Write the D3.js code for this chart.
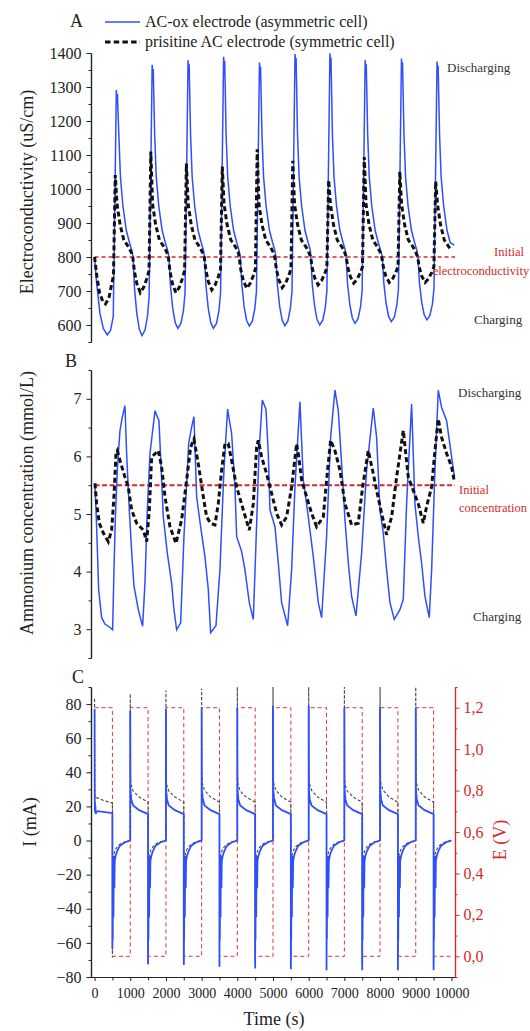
<!DOCTYPE html>
<html><head><meta charset="utf-8">
<script src="https://cdn.jsdelivr.net/npm/d3@7"></script>
<style>
body{margin:0;background:#fff;}
svg{display:block;font-family:"Liberation Serif","Times New Roman",serif;}
svg text{font-family:"Liberation Serif","Times New Roman",serif;}
</style>
</head><body>
<svg id="chart" width="530" height="1031"></svg>
<script>
// ---------------- DATA ----------------
const timeTicks = [0,1000,2000,3000,4000,5000,6000,7000,8000,9000,10000];
const condTicks = [600,700,800,900,1000,1100,1200,1300,1400];
const ammTicks = [3,4,5,6,7];
const curTicks = [-80,-60,-40,-20,0,20,40,60,80];
const voltTicks = [0,0.2,0.4,0.6,0.8,1.0,1.2];

const initialCond = 800;
const initialAmm = 5.5;

// Panel A – electroconductivity, AC-ox (blue)
const condBlueFirst = [[0,800],[58,723],[151,634],[244,590],[356,571],[449,585],[524,625]];
const condBluePeakT = [610,1614,2620,3616,4621,5617,6595,7583,8600,9597];
const condBluePeak  = [1291,1365,1379,1389,1372,1397,1399,1379,1384,1375];
const condBlueMin   = [571,569,590,590,597,598,600,605,610,615];
const condBlueDropOffsets = [-535,-495,-430,-360,-285,-200,-130,-85];
const condBlueDropFrac    = [1,0.6,0.28,0.08,0,0.07,0.25,0.5];
const condBlueDecayOffsets = [70,115,185,280,370,430];
const condBlueDecayValues  = [1160,1035,950,878,842,820];
const condBlueEnd = [10080,835];

// Panel A – electroconductivity, pristine AC (black dashed)
const condBlackFirst = [[0,800],[65,743],[140,694],[233,669],[307,662],[400,679],[466,713],[530,745]];
const condBlackPeakT = [580,1576,2573,3579,4557,5554,6560,7557,8553,9559];
const condBlackPeak  = [1041,1110,1075,1066,1117,1083,1026,1094,1051,1022];
const condBlackMin   = [662,695,695,703,708,710,718,723,725,725];
const condBlackDropOffsets = [-505,-460,-390,-295,-200,-110,-50];
const condBlackDropFrac    = [1,0.6,0.25,0,0.15,0.4,0.62];
const condBlackDecayOffsets = [50,135,240,380,455];
const condBlackDecayValues  = [955,895,850,828,812];
const condBlackEnd = [9990,820];

// Panel B – ammonium concentration
const ammBlue = [[11,5.53],[58,4.78],[114,3.69],[198,3.20],[291,3.09],[432,3.03],[506,2.99],[544,4.03],[581,4.90],[637,5.76],[712,6.45],[777,6.68],[852,6.88],[898,6.05],[973,5.07],[1048,4.26],[1104,3.75],[1225,3.34],[1347,3.05],[1412,3.80],[1478,5.07],[1553,6.05],[1693,6.79],[1804,6.62],[1851,5.99],[1926,4.95],[2038,4.32],[2160,3.80],[2225,3.34],[2300,2.99],[2412,3.11],[2505,4.61],[2636,6.22],[2720,6.51],[2785,6.69],[2860,5.30],[2972,4.78],[3093,4.26],[3187,3.69],[3252,2.94],[3402,3.06],[3513,4.03],[3625,5.76],[3728,6.82],[3841,6.39],[3934,5.47],[3981,4.61],[4121,4.35],[4214,4.03],[4336,3.46],[4448,3.17],[4523,4.49],[4607,6.05],[4700,6.98],[4803,6.82],[4868,6.05],[4915,5.07],[5055,4.78],[5148,4.15],[5242,3.46],[5410,3.06],[5522,4.03],[5615,5.47],[5755,6.95],[5849,5.59],[5989,4.95],[6129,4.26],[6269,3.46],[6362,3.20],[6502,4.61],[6615,6.33],[6736,7.15],[6830,6.79],[6923,5.87],[7017,4.90],[7110,4.15],[7203,3.57],[7325,3.23],[7483,4.32],[7623,5.76],[7810,6.84],[7904,6.33],[7997,5.07],[8090,4.67],[8184,4.03],[8277,3.46],[8398,3.17],[8557,3.34],[8651,3.52],[8744,5.18],[8884,6.91],[8977,5.18],[9071,4.61],[9164,4.15],[9258,3.57],[9379,3.20],[9445,4.03],[9538,5.76],[9631,7.15],[9725,6.85],[9865,6.62],[10005,5.99],[10085,5.64]];
const ammBlack = [[11,5.53],[58,5.18],[133,4.84],[245,4.67],[385,4.52],[478,4.72],[544,5.30],[600,6.05],[637,6.10],[712,5.93],[852,5.64],[945,5.47],[1039,5.07],[1179,4.84],[1366,4.72],[1460,4.52],[1534,5.07],[1599,5.99],[1786,6.10],[1879,5.82],[1973,5.30],[2113,4.78],[2281,4.49],[2440,4.90],[2580,5.59],[2692,6.16],[2785,6.30],[2907,5.87],[3047,5.30],[3140,4.95],[3252,4.84],[3373,4.81],[3467,5.18],[3560,5.76],[3654,6.22],[3747,6.22],[3841,5.93],[3981,5.47],[4168,5.07],[4336,4.72],[4448,5.18],[4541,6.16],[4588,6.28],[4681,5.99],[4821,5.70],[4961,5.36],[5101,5.01],[5242,4.81],[5382,4.95],[5522,5.47],[5662,6.22],[5708,6.05],[5802,5.59],[5942,5.30],[6082,5.01],[6222,4.78],[6409,4.95],[6502,5.59],[6615,6.28],[6736,6.10],[6876,5.76],[7017,5.18],[7203,4.81],[7390,4.84],[7511,5.47],[7670,6.10],[7810,5.70],[7904,5.41],[8044,5.01],[8184,4.64],[8324,4.95],[8464,5.64],[8651,6.45],[8791,5.64],[8931,5.41],[9071,5.18],[9211,4.84],[9304,5.13],[9445,5.47],[9538,6.10],[9631,6.65],[9725,6.33],[9865,6.05],[10005,5.82],[10085,5.55]];

// Panel C – current (mA) and cell voltage (V)
const cycleStart = [0,1000,2000,3000,4000,5000,6000,7000,8000,9000];
const curBluePeak  = [77,76,77,78,78,79,79,78,78,78];
const curBlueStart = [17.5,24,24,24.5,24,24.5,24,24,24,24];
const curBlue80    = [17.2,20.5,20.5,20.5,20.5,20.5,20.5,20.5,20.5,20.5];
const curBlue250   = [16.8,17.8,17.8,17.8,17.8,17.8,17.8,17.8,17.8,17.8];
const curBlueEnd   = [16,15.5,15.5,15.5,15.5,15.5,15.5,15.5,15.5,15.5];
const curBlueNeg   = [-63.5,-72.5,-73,-74,-75,-75.5,-76,-76,-76,-76];
const curBlueDisOffsets = [504,510,516,530,538,555,565,590,620,660,712,800,852,950,1000];
const curBlueDisValues  = [-12,-58,-10,-45,-9,-28,-12,-9,-7,-5,-3,-1.8,-1,-0.3,0.2];

const curBlackPeak  = [83,86,88,89,90,90,90,90,90,90];
const curBlackStart = [25,33,33,34,33,34,34,33,34,34];
const curBlack80    = [25,29,29,29.5,29,29.5,29.5,29,29.5,29.5];
const curBlack250   = [23.5,25.5,25.5,25.5,25.5,25.5,25.5,25.5,25.5,25.5];
const curBlackEnd   = [22,22.5,22.5,22.5,22.5,22.5,22.5,22.5,22.5,22.5];
const curBlackNeg   = [-68.5,-72.5,-72,-72,-72,-73,-73,-73,-73,-73];
const curBlackDisOffsets = [505,515,540,580,640,720,850,1000];
const curBlackDisValues  = [-20,-10,-8,-5.5,-3.5,-2,-0.7,0];

const voltageSteps = [[0,1.2],[500,0],[1000,1.2],[1500,0],[2000,1.2],[2500,0],[3000,1.2],[3500,0],[4000,1.2],[4500,0],[5000,1.2],[5500,0],[6000,1.2],[6500,0],[7000,1.2],[7500,0],[8000,1.2],[8500,0],[9000,1.2],[9500,0],[10050,0]];

// ---------------- BUILD SERIES ----------------
const condBlue = condBlueFirst.slice();
for (let c = 0; c < 10; c++) {
  const P = condBluePeakT[c], mn = condBlueMin[c], pk = condBluePeak[c];
  if (c > 0) condBlueDropOffsets.forEach((o,i) => condBlue.push([P+o, mn + condBlueDropFrac[i]*(initialCond-mn)]));
  condBlue.push([P, pk],[P+15, pk-30],[P+30, pk-12]);
  const n = c < 9 ? condBlueDecayOffsets.length : 5;
  for (let i = 0; i < n; i++) condBlue.push([P+condBlueDecayOffsets[i], condBlueDecayValues[i]]);
}
condBlue.push(condBlueEnd);

const condBlack = condBlackFirst.slice();
for (let c = 0; c < 10; c++) {
  const P = condBlackPeakT[c], mn = condBlackMin[c], pk = condBlackPeak[c];
  if (c > 0) condBlackDropOffsets.forEach((o,i) => condBlack.push([P+o, mn + condBlackDropFrac[i]*(initialCond-mn)]));
  condBlack.push([P, pk]);
  const n = c < 9 ? condBlackDecayOffsets.length : 4;
  for (let i = 0; i < n; i++) condBlack.push([P+condBlackDecayOffsets[i], condBlackDecayValues[i]]);
}
condBlack.push(condBlackEnd);

const curBlue = [], curBlack = [];
for (let c = 0; c < 10; c++) {
  const T = cycleStart[c], s = curBlueStart[c];
  curBlue.push([T,curBluePeak[c]],[T+4,s+16],[T+8,s],[T+12,s+5],[T+16,s-1],[T+22,s+3],[T+30,s-2],[T+45,s-1],
               [T+80,curBlue80[c]],[T+250,curBlue250[c]],[T+500,curBlueEnd[c]],[T+500,curBlueNeg[c]]);
  curBlueDisOffsets.forEach((o,i) => curBlue.push([T+o, curBlueDisValues[i]]));
  const k = curBlackStart[c];
  curBlack.push([T,curBlackPeak[c]],[T+6,k+5],[T+15,k],[T+80,curBlack80[c]],[T+250,curBlack250[c]],
                [T+500,curBlackEnd[c]],[T+500,curBlackNeg[c]]);
  curBlackDisOffsets.forEach((o,i) => curBlack.push([T+o, curBlackDisValues[i]]));
}

// ---------------- SCALES ----------------
const svg = d3.select("#chart");
const x  = d3.scaleLinear().domain([-100,10100]).range([91,455]);
const yA = d3.scaleLinear().domain([550,1400]).range([342,53]);
const yB = d3.scaleLinear().domain([2.5,7.5]).range([658,370]);
const yC = d3.scaleLinear().domain([-80,90]).range([977,687]);
const yE = d3.scaleLinear().domain([-0.1,1.3]).range([977,687]);

const BLUE = "#2f4ffb", RED = "#d42a2a", DARK = "#222";
const FONT = "Liberation Serif";

function lineOf(ys, curve){ const l = d3.line().x(d=>x(d[0])).y(d=>ys(d[1])); if(curve) l.curve(curve); return l; }

function styleAxis(g, color, fs){
  g.attr("font-family", FONT);
  g.selectAll("path.domain").attr("stroke",color).attr("stroke-width",1.2);
  g.selectAll("line").attr("stroke",color).attr("stroke-width",1);
  g.selectAll("text").attr("fill",color).attr("font-family",FONT).style("font-size",fs+"px");
}

function leftAxis(ys, major, minor, fs){
  const gm = svg.append("g").attr("transform","translate(91,0)");
  gm.call(d3.axisLeft(ys).tickValues(minor).tickSize(2.5).tickSizeOuter(0).tickFormat(""));
  styleAxis(gm, DARK, fs);
  const g = svg.append("g").attr("transform","translate(91,0)");
  g.call(d3.axisLeft(ys).tickValues(major).tickSize(4.5).tickSizeOuter(0).tickPadding(5).tickFormat(d3.format("d")));
  styleAxis(g, DARK, fs);
}

// ---------------- PANEL A ----------------
leftAxis(yA, condTicks, d3.range(550,1401,50).filter(v=>v%100!==0), 16);
svg.append("line").attr("x1",x(0)).attr("x2",x(10100)).attr("y1",yA(initialCond)).attr("y2",yA(initialCond))
  .attr("stroke",RED).attr("stroke-width",1.6).attr("stroke-dasharray","4,3");
svg.append("path").datum(condBlue).attr("d",lineOf(yA)).attr("fill","none").attr("stroke",BLUE).attr("stroke-width",1.5);
svg.append("path").datum(condBlack).attr("d",lineOf(yA)).attr("fill","none").attr("stroke","#111").attr("stroke-width",3).attr("stroke-dasharray","5,3");

// ---------------- PANEL B ----------------
leftAxis(yB, ammTicks, [2.5,3.5,4.5,5.5,6.5,7.5], 16);
svg.append("line").attr("x1",x(0)).attr("x2",x(10100)).attr("y1",yB(initialAmm)).attr("y2",yB(initialAmm))
  .attr("stroke",RED).attr("stroke-width",2).attr("stroke-dasharray","5,2.5");
svg.append("path").datum(ammBlue).attr("d",lineOf(yB)).attr("fill","none").attr("stroke",BLUE).attr("stroke-width",1.5);
svg.append("path").datum(ammBlack).attr("d",lineOf(yB)).attr("fill","none").attr("stroke","#111").attr("stroke-width",3).attr("stroke-dasharray","5,3");

// ---------------- PANEL C ----------------
leftAxis(yC, curTicks, d3.range(-70,91,20), 16);
// bottom axis
const gxm = svg.append("g").attr("transform","translate(0,977)");
gxm.call(d3.axisBottom(x).tickValues(d3.range(500,10000,1000)).tickSize(3.5).tickSizeOuter(0).tickFormat(""));
styleAxis(gxm, DARK, 14);
const gx = svg.append("g").attr("transform","translate(0,977)");
gx.call(d3.axisBottom(x).tickValues(timeTicks).tickSize(4).tickSizeOuter(0).tickPadding(7).tickFormat(d3.format("d")));
styleAxis(gx, DARK, 14);
// right axis
const grm = svg.append("g").attr("transform","translate(455,0)");
grm.call(d3.axisRight(yE).tickValues([-0.1,0.1,0.3,0.5,0.7,0.9,1.1,1.3]).tickSize(2.5).tickSizeOuter(0).tickFormat(""));
styleAxis(grm, RED, 16);
const gr = svg.append("g").attr("transform","translate(455,0)");
gr.call(d3.axisRight(yE).tickValues(voltTicks).tickSize(4.5).tickSizeOuter(0).tickPadding(4).tickFormat(d=>d.toFixed(1).replace(".",",")));
styleAxis(gr, RED, 16);

svg.append("path").datum(voltageSteps).attr("d",lineOf(yE,d3.curveStepAfter)).attr("fill","none")
  .attr("stroke","#e03535").attr("stroke-width",1).attr("stroke-dasharray","4,3");
svg.append("path").datum(curBlack).attr("d",lineOf(yC)).attr("fill","none").attr("stroke","#444").attr("stroke-width",1.1).attr("stroke-dasharray","3,2");
svg.append("path").datum(curBlue).attr("d",lineOf(yC)).attr("fill","none").attr("stroke",BLUE).attr("stroke-width",1.8);

// ---------------- TEXT ----------------
function txt(xp, yp, s, size, color, anchor, rot){
  const t = svg.append("text").text(s).attr("fill",color||DARK).attr("font-family",FONT).style("font-size",size+"px")
    .attr("text-anchor",anchor||"start");
  if (rot) t.attr("transform",`translate(${xp},${yp}) rotate(-90)`).attr("dy","0.35em");
  else t.attr("x",xp).attr("y",yp);
  return t;
}
txt(70,27,"A",18);
txt(65,367,"B",18);
txt(72,683,"C",18);

// legend
svg.append("line").attr("x1",105).attr("x2",140).attr("y1",22).attr("y2",22).attr("stroke",BLUE).attr("stroke-width",1.6);
svg.append("line").attr("x1",105).attr("x2",140).attr("y1",42).attr("y2",42).attr("stroke","#111").attr("stroke-width",3).attr("stroke-dasharray","5.5,3.2");
txt(145,27,"AC-ox electrode (asymmetric cell)",16);
txt(145,47,"prisitine AC electrode (symmetric cell)",16);

// axis titles
txt(27,192,"Electroconductivity (uS/cm)",18,DARK,"middle",true);
txt(27,503,"Ammonium concentration (mmol/L)",18,DARK,"middle",true);
txt(30,822,"I (mA)",18,DARK,"middle",true);
txt(500,840,"E (V)",18,RED,"middle",true);
txt(274,1025,"Time (s)",18,DARK,"middle");

// annotations
txt(447,72,"Discharging",13,"#333");
txt(509,256,"Initial",12.5,RED,"middle");
txt(481,275,"electroconductivity",12.5,RED,"middle");
txt(474,324,"Charging",13,"#333");
txt(458,397,"Discharging",13,"#333");
txt(459,494,"Initial",12.5,RED);
txt(459,512,"concentration",12.5,RED);
txt(473,621,"Charging",13,"#333");
</script>
</body></html>
